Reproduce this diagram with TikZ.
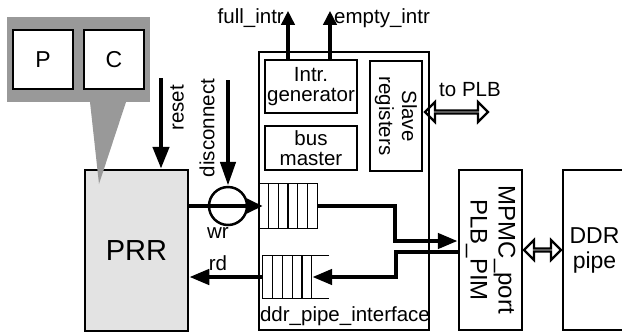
\documentclass[tikz,border=0pt]{standalone}
\usepackage{fontspec}
\setmainfont{Liberation Sans}
\usetikzlibrary{arrows.meta,shapes.arrows,calc}
\newcommand{\fsmall}{\fontsize{20.5}{20}\selectfont}
\newcommand{\fmid}{\fontsize{23}{25}\selectfont}
\newcommand{\fbig}{\fontsize{29}{30}\selectfont}
\tikzset{
  blk/.style={draw,line width=2.5pt,inner sep=0pt,align=center,font=\fsmall},
  cell/.style={line width=1.2pt},
  bus/.style={line width=4.5pt,-{Triangle[length=20pt,width=15pt]}},
  intr/.style={line width=4.5pt,-{Triangle[length=14pt,width=13pt]}},
  hollow/.style={double arrow,draw,line width=2.2pt,inner sep=0pt,minimum width=20pt,double arrow head extend=6pt}
}
\begin{document}
\begin{tikzpicture}[x=1pt,y=-1pt,line join=miter]
\useasboundingbox (0,0) rectangle (622,333);
% blocks
\node[blk,fill=black!11,minimum width=103pt,minimum height=161pt,font=\fbig] (prr) at (136.5,250.5) {PRR};
\node[blk,minimum width=170pt,minimum height=278pt] (ifc) at (344,191) {};
\node[blk,minimum width=92pt,minimum height=53pt] (gen) at (311,86.5) {Intr.\\generator};
\node[blk,minimum width=92pt,minimum height=44pt] (bm) at (311,148) {bus\\master};
\node[blk,minimum width=52pt,minimum height=110pt] (slv) at (396,116) {};
\node[rotate=-90,align=center,font=\fontsize{20.5}{23}\selectfont,inner sep=0pt] (slvtxt) at (slv) {Slave\\registers};
\node[blk,minimum width=63pt,minimum height=160pt] (mpmc) at (490.5,250) {};
\node[rotate=-90,align=center,font=\fontsize{24}{28}\selectfont,inner sep=0pt] (mpmctxt) at (mpmc) {MPMC\_port\\PLB\_PIM};
\node[blk,minimum width=63pt,minimum height=160pt,font=\fmid] (ddr) at (594.5,250) {DDR\\pipe};
\node[font=\fsmall,inner sep=0pt] (ifctxt) at (345,316) {ddr\_pipe\_interface};
% callout
\fill[black!40] (7,17) rectangle (150,102);
\fill[black!40] (90,102) -- (126,102) -- (99,184) -- cycle;
\node[blk,fill=white,minimum width=60pt,minimum height=59pt,font=\fmid] (p) at (43,59.5) {P};
\node[blk,fill=white,minimum width=60pt,minimum height=59pt,font=\fmid] (c) at (114,59.5) {C};
% fifos
\node[inner sep=0pt,minimum width=58pt,minimum height=44pt] (fin) at (288,206) {};
\draw[cell] (fin.north west) -- (fin.north east) -- (fin.south east) -- (fin.south west);
\foreach \i in {1,...,5}
  \draw[cell] ($(fin.north west)+(\i*9.7,0)$) -- ($(fin.south west)+(\i*9.7,0)$);
\node[inner sep=0pt,minimum width=66pt,minimum height=42pt] (fout) at (296,277) {};
\draw[cell] (fout.north east) -- (fout.north west) -- (fout.south west) -- (fout.south east);
\foreach \i in {1,...,5}
  \draw[cell] ($(fout.north west)+(\i*9.8,0)$) -- ($(fout.south west)+(\i*9.8,0)$);
% control signals
\node[draw,circle,line width=2.5pt,minimum size=38pt,inner sep=0pt] (wrc) at (228,206) {};
\node[font=\fsmall] (wr) at (218,233) {wr};
\node[font=\fsmall] (rd) at (218,263) {rd};
\coordinate (rst) at (161,78);
\coordinate (dis) at (228,80);
\draw[line width=4.5pt,-{Triangle[length=22pt,width=16pt]}] (rst) -- (rst |- prr.north);
\draw[line width=4.5pt,-{Triangle[length=24pt,width=15pt]}] (dis) -- (wrc.north);
\node[rotate=90,font=\fsmall,inner sep=0pt] (distxt) at (207,128) {disconnect};
\node[rotate=90,font=\fsmall,inner sep=0pt] (rsttxt) at (177,108) {reset};
% data path
\draw[line width=4.5pt,-{Triangle[length=16pt,width=14pt]}] (prr.east |- fin.west) -- ([xshift=4pt]fin.west);
\draw[bus] (fin.east) -- ++(78,0) |- ([yshift=9pt]mpmc.west);
\draw[bus] ([yshift=-2pt]mpmc.west) -- ++(-62,0) |- ([xshift=-17pt]fout.east);
\draw[bus] (fout.west) -- (fout.west -| prr.east);
\draw[intr] ([xshift=-23pt]gen.north) -- ++(0,-48) coordinate (fi);
\draw[intr] ([xshift=19pt]gen.north) -- ++(0,-48) coordinate (ei);
\node[font=\fsmall,anchor=east,inner sep=0pt] (fitxt) at ($(fi)+(-4,7)$) {full\_intr};
\node[font=\fsmall,anchor=west,inner sep=0pt] (eitxt) at ($(ei)+(4,7)$) {empty\_intr};
% plb and ddr links
\node[hollow,minimum height=63pt] (plb) at (456.5,112) {};
\node[font=\fsmall] (plbtxt) at (470,90) {to PLB};
\node[hollow,minimum height=37pt] (ddrlink) at ($(mpmc.east)!0.5!(ddr.west)$) {};
\end{tikzpicture}
\end{document}
